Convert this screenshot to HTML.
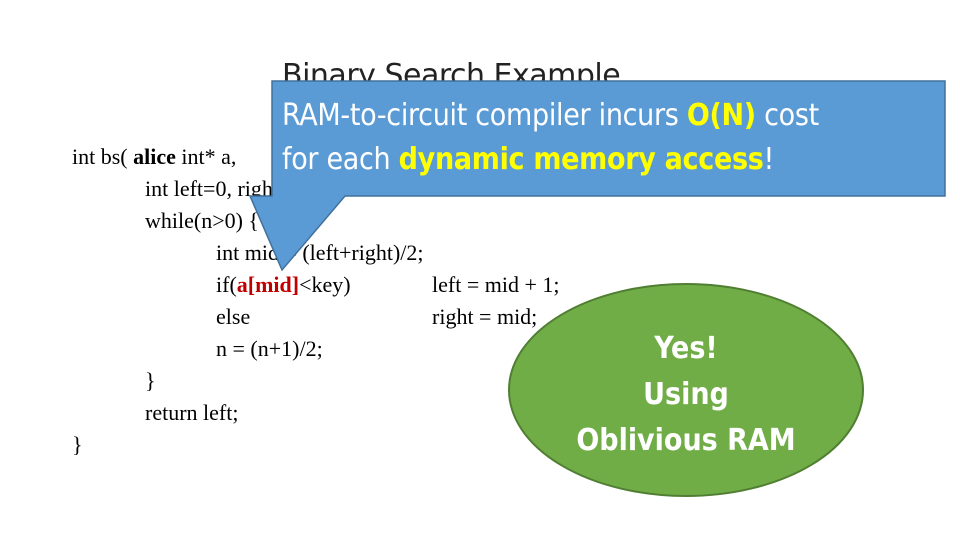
<!DOCTYPE html>
<html><head><style>
body{margin:0;width:960px;height:540px;background:#fff;position:relative;overflow:hidden}
.c{position:absolute;font-family:"Liberation Serif",serif;font-size:22px;color:#000;white-space:pre;line-height:1}
.t{position:absolute;font-family:"DejaVu Sans","Liberation Sans",sans-serif;}
</style></head><body>
<div class="t" style="left:282px;top:58px;font-size:30px;color:#222;letter-spacing:-0.5px">Binary Search Example</div>
<div class="c" style="left:72px;top:146px">int bs( <b>alice</b> int* a, </div>
<div class="c" style="left:145px;top:178px">int left=0, right=n;</div>
<div class="c" style="left:145px;top:210px">while(n&gt;0) {</div>
<div class="c" style="left:216px;top:242px">int mid = (left+right)/2;</div>
<div class="c" style="left:216px;top:274px">if(<b style="color:#c00000">a[mid]</b>&lt;key)</div>
<div class="c" style="left:432px;top:274px">left = mid + 1;</div>
<div class="c" style="left:216px;top:306px">else</div>
<div class="c" style="left:432px;top:306px">right = mid;</div>
<div class="c" style="left:216px;top:338px">n = (n+1)/2;</div>
<div class="c" style="left:145px;top:370px">}</div>
<div class="c" style="left:145px;top:402px">return left;</div>
<div class="c" style="left:72px;top:434px">}</div>
<svg style="position:absolute;left:0;top:0" width="960" height="540">
<path d="M272,81 H945 V196 H345 L282,270 L250,196 H272 Z" fill="#5b9bd5" stroke="#41719c" stroke-width="1.5"/>
<ellipse cx="686" cy="390" rx="177" ry="106" fill="#70ad47" stroke="#507e32" stroke-width="2"/>
</svg>
<div class="t" style="left:282px;top:98px;font-size:30px;color:#fff;font-family:'DejaVu Sans Condensed','DejaVu Sans',sans-serif;letter-spacing:-0.3px">RAM-to-circuit compiler incurs <b style="color:#ffff00">O(N)</b> cost</div>
<div class="t" style="left:282px;top:142px;font-size:30px;color:#fff;font-family:'DejaVu Sans Condensed','DejaVu Sans',sans-serif;letter-spacing:-0.3px">for each <b style="color:#ffff00">dynamic memory access</b>!</div>
<div class="t" style="left:509px;top:326px;width:354px;text-align:center;font-size:30px;line-height:46px;color:#fff;font-weight:bold;font-family:'DejaVu Sans Condensed','DejaVu Sans',sans-serif">Yes!<br>Using<br>Oblivious RAM</div>
</body></html>
